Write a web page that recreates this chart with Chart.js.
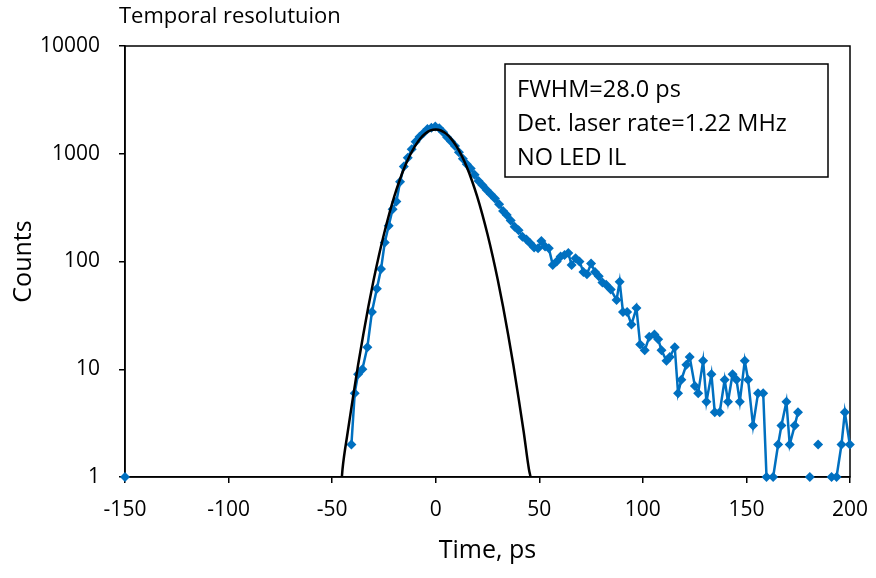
<!DOCTYPE html>
<html>
<head>
<meta charset="utf-8">
<title>Temporal resolution</title>
<script src="https://cdn.jsdelivr.net/npm/chart.js@4.4.1/dist/chart.umd.min.js"></script>
<style>
  html, body { margin: 0; padding: 0; background: #fff; }
</style>
</head>
<body>
<canvas id="mainChart" width="876" height="578"></canvas>
<script>
const timePs = [
    -150, -148,
    -40.7, -39.1, -37.5, -35.4, -33.0, -30.8, -28.4, -26.4, -24.6, -22.7,
    -20.8, -19.0, -17.2, -15.4, -13.5, -11.6, -9.7, -7.8, -5.9, -4.0,
    -2.1, -0.2, 1.7, 3.6, 5.5, 7.4, 9.3, 11.2, 13.1, 15.0,
    16.9, 18.8, 20.7, 22.6, 24.6, 26.6, 28.6, 30.6, 32.5, 34.3,
    36.2, 38.1, 40.0, 41.9, 43.8, 45.6, 47.5, 49.4, 51.0, 52.8,
    54.6, 56.5, 58.4, 60.3, 62.2, 64.0, 65.6, 67.5, 69.4, 71.3,
    73.0, 75.0, 76.9, 78.7, 80.5, 82.3, 84.5, 87.3, 88.8, 90.4,
    92.4, 94.5, 96.9, 98.7, 100.9, 103.1, 105.6, 107.4, 109.0, 111.4,
    113.0, 115.4, 117.0, 118.6, 121.0, 122.6, 125.1, 126.7, 129.1, 130.7,
    133.1, 134.7, 137.1, 139.5, 141.1, 143.3, 145.2, 146.8, 149.2, 150.8,
    153.2, 155.6, 158.1, 159.7, 162.9, 165.3, 166.9, 169.3, 170.9, 173.3,
    174.9, 177.5, 180.6, 182.6, 184.6, 187.5, 191.1, 193.5, 195.9, 197.5,
    199.9
]
const counts = [
    1, null,
    2, 6, 9, 10, 16, 34, 56, 85, 150, 215,
    305, 360, 550, 760, 920, 1100, 1290, 1440, 1560, 1700,
    1740, 1790, 1720, 1580, 1420, 1300, 1180, 1030, 900, 800,
    730, 640, 560, 510, 460, 420, 385, 340, 295, 270,
    240, 210, 195, 170, 160, 148, 135, 133, 155, 138,
    133, 93, 100, 111, 115, 120, 93, 107, 100, 80,
    76, 96, 80, 73, 64, 61, 55, 44, 65, 34,
    34, 26, 37, 17, 15, 20, 21, 19, 15, 12,
    13, 16, 6, 8, 11, 13, 7, 6, 12, 5,
    9, 4, 4, 8, 5, 9, 8, 5, 12, 8,
    3, 6, 6, 1, 1, 2, 3, 5, 2, 3,
    4, null, 1, null, 2, null, 1, 1, 2, 4,
    2
]

// gaussian fit line, values read at 2.5 ps steps
const fitTimePs = [
    -45.3, -45, -42.5, -40, -37.5, -35, -32.5, -30, -27.5, -25, -22.5, -20,
    -17.5, -15, -12.5, -10, -7.5, -5, -2.5, 0, 2.5, 5, 7.5, 10,
    12.5, 15, 17.5, 20, 22.5, 25, 27.5, 30, 32.5, 35, 37.5, 40,
    42.5, 45, 45.8
]
const fitCounts = [
    1, 1.18, 2.6, 5.4, 10.9, 20.8, 38.2, 67, 112, 179, 274, 402,
    562, 752, 962, 1178, 1378, 1540, 1645, 1680, 1643, 1537, 1375, 1177,
    962, 752, 562, 402, 274, 179, 112, 67, 38.2, 20.8, 10.9, 5.4,
    2.6, 1.18, 1
]

const xTickValues = [-150, -100, -50, 0, 50, 100, 150, 200]
const yTickValues = [1, 10, 100, 1000, 10000]

const chartTitle = "Temporal resolutuion"
const noteLines = ["FWHM=28.0 ps", "Det. laser rate=1.22 MHz", "NO LED IL"]
const xTitle = "Time, ps"
const yTitle = "Counts"

const fontName = '"Open Sans", "Noto Sans", sans-serif'
const dataBlue = "#0070C0"

function toPoints(xs, ys) {
    return xs.map((x, i) => ({ x: x, y: ys[i] }))
}

// plot frame, title and the note box
const extrasPlugin = {
    id: 'extras',
    beforeDatasetsDraw(chart) {
        const ctx = chart.ctx
        const a = chart.chartArea
        ctx.save()
        ctx.strokeStyle = "#000"
        ctx.lineWidth = 1.5
        ctx.strokeRect(a.left, a.top, a.right - a.left, a.bottom - a.top)
        ctx.restore()
    },
    afterDraw(chart) {
        const ctx = chart.ctx
        ctx.save()
        ctx.fillStyle = "#000"
        ctx.textAlign = "left"
        ctx.textBaseline = "alphabetic"
        ctx.font = "22px " + fontName
        ctx.fillText(chartTitle, 119, 23)

        ctx.fillStyle = "#fff"
        ctx.fillRect(505, 64, 323, 113)
        ctx.strokeStyle = "#000"
        ctx.lineWidth = 1.5
        ctx.strokeRect(505, 64, 323, 113)
        ctx.fillStyle = "#000"
        ctx.font = "23.5px " + fontName
        let baselines = [97, 131, 165]
        noteLines.forEach((line, i) => {
            ctx.fillText(line, 517, baselines[i])
        })
        ctx.restore()
    }
}

const ctx = document.getElementById('mainChart').getContext('2d')
window.myChart = new Chart(ctx, {
    type: 'line',
    data: {
        datasets: [
            {
                label: 'Fit',
                data: toPoints(fitTimePs, fitCounts),
                borderColor: "#000",
                borderWidth: 2.5,
                pointRadius: 0,
                fill: false,
                cubicInterpolationMode: 'monotone',
                order: 0
            },
            {
                label: 'Counts',
                data: toPoints(timePs, counts),
                borderColor: dataBlue,
                backgroundColor: dataBlue,
                borderWidth: 2.5,
                pointStyle: 'rectRot',
                pointRadius: 5,
                pointBorderWidth: 0,
                spanGaps: false,
                fill: false,
                clip: false,
                order: 1
            }
        ]
    },
    plugins: [extrasPlugin],
    options: {
        responsive: false,
        devicePixelRatio: 1,
        animation: false,
        layout: { padding: { top: 46, right: 26, left: 0, bottom: 0 } },
        plugins: {
            legend: { display: false },
            tooltip: { enabled: false },
            title: { display: false }
        },
        scales: {
            x: {
                type: 'linear',
                min: -150,
                max: 200,
                afterBuildTicks: (scale) => { scale.ticks = xTickValues.map(v => ({ value: v })) },
                afterFit: (scale) => {
                    scale.height = 101
                    scale.paddingRight = 0
                    scale.paddingLeft = 0
                },
                grid: { drawOnChartArea: false, drawTicks: true, tickLength: 6, color: "#000", lineWidth: 1.5 },
                border: { display: true, color: "#000", width: 1.5 },
                ticks: {
                    color: "#000",
                    padding: 14,
                    maxRotation: 0,
                    font: { family: fontName, size: 21 },
                    callback: (v) => String(v)
                },
                title: {
                    display: true,
                    text: xTitle,
                    color: "#000",
                    font: { family: fontName, size: 25 },
                    padding: { top: 0, bottom: 12 }
                }
            },
            y: {
                type: 'logarithmic',
                min: 1,
                max: 10000,
                afterBuildTicks: (scale) => { scale.ticks = yTickValues.map(v => ({ value: v })) },
                afterFit: (scale) => { scale.width = 125 },
                grid: { drawOnChartArea: false, drawTicks: true, tickLength: 6, color: "#000", lineWidth: 1.5 },
                border: { display: true, color: "#000", width: 1.5 },
                ticks: {
                    color: "#000",
                    padding: 19,
                    font: { family: fontName, size: 21 },
                    callback: (v) => String(v)
                },
                title: {
                    display: true,
                    text: yTitle,
                    color: "#000",
                    font: { family: fontName, size: 25 },
                    padding: { top: 9, bottom: 0 }
                }
            }
        }
    }
})
</script>
</body>
</html>
